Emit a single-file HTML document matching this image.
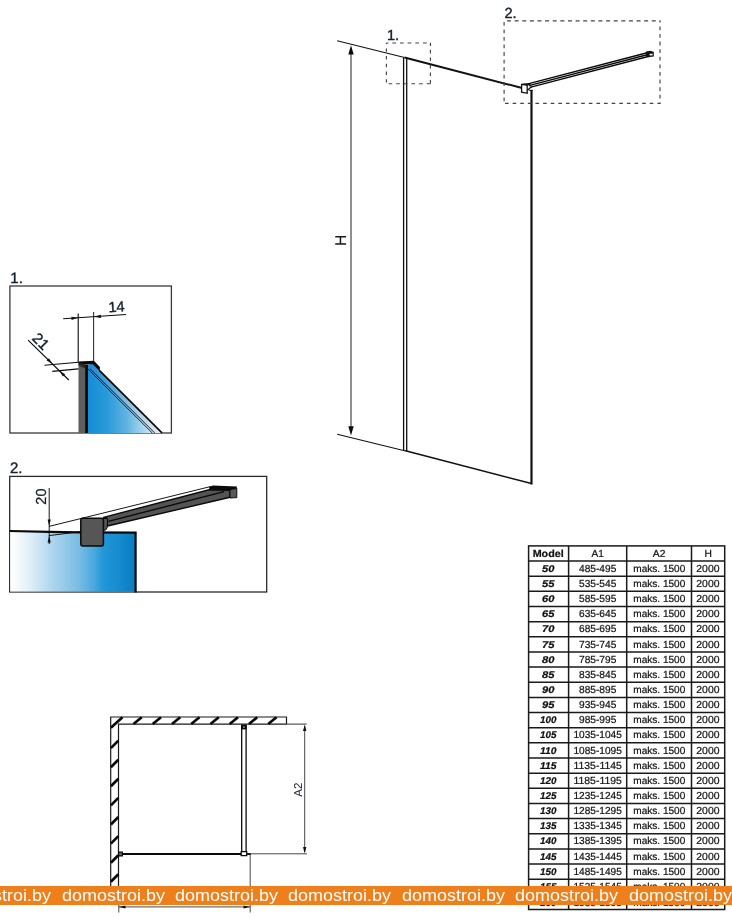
<!DOCTYPE html>
<html><head><meta charset="utf-8">
<style>
html,body{margin:0;padding:0;background:#fff;}
body{width:732px;height:918px;position:relative;overflow:hidden;font-family:"Liberation Sans",sans-serif;}
svg{position:absolute;left:0;top:0;will-change:transform;}
text{font-family:"Liberation Sans",sans-serif;text-rendering:geometricPrecision;}
#banner{will-change:transform;position:absolute;left:0;top:886px;width:732px;height:18.6px;background:#ef7f1a;overflow:hidden;}
#banner span{position:absolute;top:0.7px;color:#fff;font-size:16.6px;line-height:18px;white-space:nowrap;transform:scaleX(1.083);transform-origin:0 0;}
</style></head><body>
<svg id="main" width="732" height="918" viewBox="0 0 732 918">
<defs>
<linearGradient id="g1" gradientUnits="userSpaceOnUse" x1="88" y1="0" x2="153" y2="0"><stop offset="0" stop-color="#148dd6"/><stop offset="0.3" stop-color="#2a9ad9"/><stop offset="0.6" stop-color="#62b4e1"/><stop offset="1" stop-color="#d4eaf6"/></linearGradient>
<linearGradient id="g1s" gradientUnits="userSpaceOnUse" x1="92" y1="364" x2="158" y2="433"><stop offset="0" stop-color="#2489d2"/><stop offset="0.35" stop-color="#5aa9dc"/><stop offset="0.7" stop-color="#a6cfe8"/><stop offset="1" stop-color="#dbeaf3"/></linearGradient>
<linearGradient id="g2" x1="0" y1="0" x2="1" y2="0"><stop offset="0" stop-color="#ffffff"/><stop offset="0.15" stop-color="#e2f0f9"/><stop offset="0.35" stop-color="#a9d4ed"/><stop offset="0.55" stop-color="#78bce4"/><stop offset="0.67" stop-color="#48a9de"/><stop offset="0.74" stop-color="#2198da"/><stop offset="1" stop-color="#0a7dc2"/></linearGradient>
</defs>

<!-- MAIN ISO VIEW -->
<g stroke="#111" fill="none">
<line x1="337.1" y1="40.7" x2="404.5" y2="57.6" stroke-width="1.05"/>
<line x1="404.5" y1="57.5" x2="522" y2="88" stroke-width="1.95"/>
<line x1="337.2" y1="434.3" x2="404.5" y2="450.8" stroke-width="1.05"/>
<line x1="404.5" y1="450.6" x2="531.5" y2="483.6" stroke-width="1.6"/>
<line x1="403.6" y1="57.5" x2="403.6" y2="450.4" stroke-width="1.3"/>
<line x1="406.7" y1="57.8" x2="406.7" y2="451.2" stroke-width="1.3"/>
<line x1="531.5" y1="90" x2="531.5" y2="484.4" stroke-width="2.2"/>
</g>
<!-- H dim -->
<line x1="351" y1="50" x2="351" y2="430" stroke="#6a6a6a" stroke-width="1.5"/>
<polygon points="351,45.2 348.3,54.6 353.7,54.6" fill="#0a0a0a"/>
<polygon points="351,435.6 348.3,426.3 353.7,426.3" fill="#0a0a0a"/>
<text transform="translate(345.8,240.4) rotate(-90)" font-size="15.5" fill="#1a1a1a" stroke="#1a1a1a" stroke-width="0.2" text-anchor="middle">H</text>
<!-- dashed boxes -->
<g stroke="#444" stroke-width="1.15" fill="none">
<line x1="386.4" y1="43" x2="430.9" y2="43" stroke-dasharray="3.8 3.85" stroke-dashoffset="1.75"/>
<line x1="386.4" y1="43" x2="386.4" y2="83.7" stroke-dasharray="3.4 4.3" stroke-dashoffset="2.3"/>
<line x1="430.4" y1="43" x2="430.4" y2="84" stroke-dasharray="3.6 3.95" stroke-dashoffset="0.7"/>
<line x1="386.4" y1="83.7" x2="430.9" y2="83.7" stroke-dasharray="3.6 4.02" stroke-dashoffset="5.42"/>
<line x1="504" y1="20.9" x2="660.5" y2="20.9" stroke-dasharray="4 3.62" stroke-dashoffset="4.62"/>
<line x1="504.1" y1="21" x2="504.1" y2="103.4" stroke-dasharray="3.8 3.75" stroke-dashoffset="6.65"/>
<line x1="660" y1="21" x2="660" y2="103.8" stroke-dasharray="3.8 3.8" stroke-dashoffset="2.2"/>
<line x1="504" y1="103.4" x2="660.5" y2="103.4" stroke-dasharray="3.6 4.02" stroke-dashoffset="6.62"/>
</g>
<text x="387" y="40" font-size="14.6" fill="#14202c" stroke="#14202c" stroke-width="0.4">1.</text>
<text x="504.4" y="17.6" font-size="14.6" fill="#14202c" stroke="#14202c" stroke-width="0.4">2.</text>
<!-- bracket + bar -->
<g stroke="#0a0a0a" stroke-width="1.4" fill="none">
<line x1="528" y1="83.9" x2="650" y2="52"/>
<line x1="529" y1="85.6" x2="650" y2="54"/>
<line x1="530" y1="87.4" x2="650" y2="56"/>
</g>
<polygon points="521.6,84.4 527.2,85.2 527.2,93.3 521.6,92.2" fill="#fff" stroke="#111" stroke-width="1.3"/>
<polygon points="522.5,83.4 530.5,83 530.5,85 527,85.6 522.5,84.8" fill="#111"/>
<line x1="527.6" y1="90.2" x2="531.6" y2="86.6" stroke="#111" stroke-width="1.3"/>
<line x1="529.4" y1="90.4" x2="532.7" y2="90.4" stroke="#111" stroke-width="1.2"/>
<polygon points="646,51.6 650.5,50.8 653.8,52 653.8,56.4 648,57.2 646,56.6" fill="#111"/>
<rect x="649.6" y="53.8" width="3" height="1.6" fill="#fff"/>

<!-- DETAIL 1 -->
<text x="10.3" y="282.8" font-size="15" fill="#14202c" stroke="#14202c" stroke-width="0.4">1.</text>
<rect x="9.9" y="286" width="161.5" height="147" fill="#fff" stroke="#3a3a3a" stroke-width="1.3"/>
<polygon points="88,367 88,433 153.5,433" fill="url(#g1)"/>
<polygon points="87.5,364.4 93,363.8 100,371 162,433 153.5,433 88,368" fill="url(#g1s)"/>
<line x1="87.6" y1="368.6" x2="152.3" y2="433" stroke="#0a0a0a" stroke-width="0.9"/>
<line x1="89.9" y1="368.6" x2="154.8" y2="433" stroke="#0a0a0a" stroke-width="0.9"/>
<line x1="99.6" y1="370.6" x2="162" y2="432.8" stroke="#0a0a0a" stroke-width="1.7"/>
<rect x="78.5" y="363" width="6.8" height="70" fill="#5e5e5e"/>
<polygon points="78.5,363 85.3,363 85.3,368.5 78.5,365.5" fill="#2a2a2a"/>
<rect x="85.1" y="364.5" width="2.9" height="68.5" fill="#0a0a0a"/>
<polygon points="78.3,361.6 93.9,360.8 99.9,366.9 99.9,371.6 92.9,364.2 87,364.2 78.3,363.2" fill="#0a0a0a"/>
<g stroke="#0a0a0a" stroke-width="1.1" fill="none">
<line x1="78.2" y1="313.6" x2="78.2" y2="362"/>
<line x1="93.6" y1="312" x2="93.6" y2="361" stroke="#333"/>
<line x1="63.2" y1="318.8" x2="126" y2="314.5"/>
<line x1="44.4" y1="365.2" x2="78.5" y2="362.3"/>
<line x1="52.3" y1="371.4" x2="78.5" y2="368.9"/>
<line x1="28.1" y1="340.1" x2="68.8" y2="380"/>
</g>
<polygon points="78.2,317.8 71.4,316.7 71.6,319.9" fill="#111"/>
<polygon points="93.6,316.7 100.8,314.7 101,317.9" fill="#111"/>
<polygon points="52.2,363.8 46.6,360.6 49,358.2" fill="#111"/>
<polygon points="59.6,371 65.2,374.2 62.8,376.6" fill="#111"/>
<text transform="translate(116.8,311.7) rotate(-3.7)" font-size="14.6" fill="#14202c" stroke="#14202c" stroke-width="0.4" text-anchor="middle">14</text>
<text transform="translate(31.3,339) rotate(45)" font-size="15" fill="#14202c" stroke="#14202c" stroke-width="0.4">21</text>

<!-- DETAIL 2 -->
<text x="10" y="472.5" font-size="15" fill="#14202c" stroke="#14202c" stroke-width="0.4">2.</text>
<rect x="9.7" y="476.4" width="257" height="115.6" fill="#fff" stroke="#2a2a2a" stroke-width="1.3"/>
<polygon points="10.3,531.2 135.5,533 135.5,591.4 10.3,591.4" fill="url(#g2)"/>
<polyline points="9.7,531 50,531.8 80,532.4 135.6,532.6 135.6,592.4" fill="none" stroke="#0a0a0a" stroke-width="2.2"/>
<!-- bar -->
<polygon points="103.5,517.4 209.2,489.7 230,490.3 230,497.3 107.5,526 107,518.5" fill="#545454" stroke="#0a0a0a" stroke-width="1.4" stroke-linejoin="round"/>
<line x1="108.3" y1="521.4" x2="224" y2="491.6" stroke="#0a0a0a" stroke-width="1.4"/>
<polygon points="209.2,486.8 212.9,485.4 236.8,486.6 236.8,488.6 230,490.4 209.2,489.8" fill="#0a0a0a"/>
<polygon points="230,489.6 236.8,488.4 236.8,497.6 230,498" fill="#585858" stroke="#0a0a0a" stroke-width="1"/>
<path d="M103,518.4 L106,518.4 Q107.6,518.4 107.6,520 L107.2,527.5 Q106.6,530.6 103,530.6 Z" fill="#545454" stroke="#0a0a0a" stroke-width="1"/>
<rect x="80.8" y="518.3" width="22.6" height="27.6" rx="1.8" fill="#565656" stroke="#0a0a0a" stroke-width="1.5"/>
<g stroke="#0a0a0a" stroke-width="0.95" fill="none">
<line x1="49.2" y1="488" x2="49.2" y2="544"/>
<line x1="49" y1="526.4" x2="210.4" y2="486.6"/>
<line x1="49" y1="535.6" x2="80" y2="531.7"/>
</g>
<polygon points="49.2,526 47.6,519.5 50.8,519.5" fill="#111"/>
<polygon points="49.2,536 47.6,542.5 50.8,542.5" fill="#111"/>
<text transform="translate(46,496.6) rotate(-90)" font-size="14.5" fill="#14202c" stroke="#14202c" stroke-width="0.25" text-anchor="middle">20</text>

<!-- PLAN VIEW -->
<g id="plan">
<line x1="110.2" y1="717" x2="287" y2="717" stroke="#1a1a1a" stroke-width="1.2"/>
<line x1="286.5" y1="717" x2="286.5" y2="724.3" stroke="#1a1a1a" stroke-width="1.2"/>
<line x1="110.7" y1="717" x2="110.7" y2="892" stroke="#1a1a1a" stroke-width="1.2"/>
<line x1="118" y1="724.1" x2="286.5" y2="724.1" stroke="#1a1a1a" stroke-width="1.2"/>
<line x1="286.5" y1="724.1" x2="306.7" y2="724.1" stroke="#333" stroke-width="1"/>
<line x1="118.5" y1="724.1" x2="118.5" y2="892" stroke="#1a1a1a" stroke-width="1.2"/>
<line x1="118.8" y1="892" x2="118.8" y2="912.5" stroke="#333" stroke-width="0.9"/>
<g stroke="#0a0a0a" stroke-width="2.7"><line x1="122.5" y1="717.3" x2="110.9" y2="727.8"/><line x1="141.75" y1="717.3" x2="133.45" y2="724"/><line x1="161" y1="717.3" x2="152.7" y2="724"/><line x1="180.25" y1="717.3" x2="171.95" y2="724"/><line x1="199.5" y1="717.3" x2="191.2" y2="724"/><line x1="218.75" y1="717.3" x2="210.45" y2="724"/><line x1="238" y1="717.3" x2="229.7" y2="724"/><line x1="257.25" y1="717.3" x2="248.95" y2="724"/><line x1="276.5" y1="717.3" x2="268.2" y2="724"/><line x1="118.3" y1="740.6" x2="110.9" y2="748.1"/><line x1="118.3" y1="759.7" x2="110.9" y2="767.2"/><line x1="118.3" y1="778.8" x2="110.9" y2="786.3"/><line x1="118.3" y1="797.9" x2="110.9" y2="805.4"/><line x1="118.3" y1="817" x2="110.9" y2="824.5"/><line x1="118.3" y1="836.1" x2="110.9" y2="843.6"/><line x1="118.3" y1="855.2" x2="110.9" y2="862.7"/><line x1="118.3" y1="874.3" x2="110.9" y2="881.8"/></g>
<line x1="120" y1="854" x2="241.5" y2="854" stroke="#0a0a0a" stroke-width="2.2"/>
<line x1="246.5" y1="854" x2="250.8" y2="854" stroke="#0a0a0a" stroke-width="2"/>
<line x1="241.7" y1="725" x2="241.7" y2="852" stroke="#0a0a0a" stroke-width="1.3"/>
<line x1="246.1" y1="725" x2="246.1" y2="852" stroke="#0a0a0a" stroke-width="1.3"/>
<rect x="241.1" y="724.6" width="5.7" height="4.8" fill="#0a0a0a"/>
<rect x="243" y="726.2" width="1.8" height="1.8" fill="#777"/>
<rect x="241.2" y="851.6" width="5.5" height="4" fill="#fff" stroke="#0a0a0a" stroke-width="1.3"/>
<rect x="118.6" y="852.1" width="3.8" height="3.8" fill="#666" stroke="#0a0a0a" stroke-width="1.2"/>
<g stroke="#333" stroke-width="0.9">
<line x1="246.6" y1="853.8" x2="307" y2="853.8"/>
<line x1="304.7" y1="726" x2="304.7" y2="852"/>
<line x1="250.2" y1="854" x2="250.2" y2="912.5"/>
<line x1="118.8" y1="906.9" x2="250.2" y2="906.9"/>
</g>
<polygon points="304.7,724.4 303,731 306.4,731" fill="#111"/>
<polygon points="304.7,853.6 303,847 306.4,847" fill="#111"/>
<polygon points="119,906.9 125.5,905.4 125.5,908.4" fill="#111"/>
<polygon points="250,906.9 243.5,905.4 243.5,908.4" fill="#111"/>
<text transform="translate(302,789.6) rotate(-90)" font-size="11.5" fill="#223" text-anchor="middle">A2</text>
</g>
<g stroke="#1a1a1a" stroke-width="1.5" fill="none"><rect x="528.6" y="545.9" width="196.1" height="363.6"/><line x1="568.6" y1="545.9" x2="568.6" y2="909.5"/><line x1="626.7" y1="545.9" x2="626.7" y2="909.5"/><line x1="691.5" y1="545.9" x2="691.5" y2="909.5"/><line x1="528.6" y1="561.05" x2="724.7" y2="561.05"/><line x1="528.6" y1="576.2" x2="724.7" y2="576.2"/><line x1="528.6" y1="591.35" x2="724.7" y2="591.35"/><line x1="528.6" y1="606.5" x2="724.7" y2="606.5"/><line x1="528.6" y1="621.65" x2="724.7" y2="621.65"/><line x1="528.6" y1="636.8" x2="724.7" y2="636.8"/><line x1="528.6" y1="651.95" x2="724.7" y2="651.95"/><line x1="528.6" y1="667.1" x2="724.7" y2="667.1"/><line x1="528.6" y1="682.25" x2="724.7" y2="682.25"/><line x1="528.6" y1="697.4" x2="724.7" y2="697.4"/><line x1="528.6" y1="712.55" x2="724.7" y2="712.55"/><line x1="528.6" y1="727.7" x2="724.7" y2="727.7"/><line x1="528.6" y1="742.85" x2="724.7" y2="742.85"/><line x1="528.6" y1="758" x2="724.7" y2="758"/><line x1="528.6" y1="773.15" x2="724.7" y2="773.15"/><line x1="528.6" y1="788.3" x2="724.7" y2="788.3"/><line x1="528.6" y1="803.45" x2="724.7" y2="803.45"/><line x1="528.6" y1="818.6" x2="724.7" y2="818.6"/><line x1="528.6" y1="833.75" x2="724.7" y2="833.75"/><line x1="528.6" y1="848.9" x2="724.7" y2="848.9"/><line x1="528.6" y1="864.05" x2="724.7" y2="864.05"/><line x1="528.6" y1="879.2" x2="724.7" y2="879.2"/><line x1="528.6" y1="894.35" x2="724.7" y2="894.35"/></g>
<g font-size="10.2" fill="#111" stroke="#111" stroke-width="0.22" text-anchor="middle"><text x="548.2" y="556.5" textLength="31" lengthAdjust="spacingAndGlyphs" font-weight="bold">Model</text><text x="597.65" y="556.7" textLength="12.3" lengthAdjust="spacingAndGlyphs">A1</text><text x="659.1" y="556.7" textLength="12.6" lengthAdjust="spacingAndGlyphs">A2</text><text x="708.1" y="556.7" textLength="7.4" lengthAdjust="spacingAndGlyphs">H</text><text x="548.3" y="571.75" textLength="12.4" lengthAdjust="spacingAndGlyphs" font-weight="bold" font-style="italic" font-size="9.8">50</text><text x="597.65" y="571.75" textLength="37.3" lengthAdjust="spacingAndGlyphs">485-495</text><text x="659.3" y="571.75" textLength="52" lengthAdjust="spacingAndGlyphs">maks. 1500</text><text x="707.9" y="571.75" textLength="23.2" lengthAdjust="spacingAndGlyphs">2000</text>
<text x="548.3" y="586.9" textLength="12.4" lengthAdjust="spacingAndGlyphs" font-weight="bold" font-style="italic" font-size="9.8">55</text><text x="597.65" y="586.9" textLength="37.3" lengthAdjust="spacingAndGlyphs">535-545</text><text x="659.3" y="586.9" textLength="52" lengthAdjust="spacingAndGlyphs">maks. 1500</text><text x="707.9" y="586.9" textLength="23.2" lengthAdjust="spacingAndGlyphs">2000</text>
<text x="548.3" y="602.05" textLength="12.4" lengthAdjust="spacingAndGlyphs" font-weight="bold" font-style="italic" font-size="9.8">60</text><text x="597.65" y="602.05" textLength="37.3" lengthAdjust="spacingAndGlyphs">585-595</text><text x="659.3" y="602.05" textLength="52" lengthAdjust="spacingAndGlyphs">maks. 1500</text><text x="707.9" y="602.05" textLength="23.2" lengthAdjust="spacingAndGlyphs">2000</text>
<text x="548.3" y="617.2" textLength="12.4" lengthAdjust="spacingAndGlyphs" font-weight="bold" font-style="italic" font-size="9.8">65</text><text x="597.65" y="617.2" textLength="37.3" lengthAdjust="spacingAndGlyphs">635-645</text><text x="659.3" y="617.2" textLength="52" lengthAdjust="spacingAndGlyphs">maks. 1500</text><text x="707.9" y="617.2" textLength="23.2" lengthAdjust="spacingAndGlyphs">2000</text>
<text x="548.3" y="632.35" textLength="12.4" lengthAdjust="spacingAndGlyphs" font-weight="bold" font-style="italic" font-size="9.8">70</text><text x="597.65" y="632.35" textLength="37.3" lengthAdjust="spacingAndGlyphs">685-695</text><text x="659.3" y="632.35" textLength="52" lengthAdjust="spacingAndGlyphs">maks. 1500</text><text x="707.9" y="632.35" textLength="23.2" lengthAdjust="spacingAndGlyphs">2000</text>
<text x="548.3" y="647.5" textLength="12.4" lengthAdjust="spacingAndGlyphs" font-weight="bold" font-style="italic" font-size="9.8">75</text><text x="597.65" y="647.5" textLength="37.3" lengthAdjust="spacingAndGlyphs">735-745</text><text x="659.3" y="647.5" textLength="52" lengthAdjust="spacingAndGlyphs">maks. 1500</text><text x="707.9" y="647.5" textLength="23.2" lengthAdjust="spacingAndGlyphs">2000</text>
<text x="548.3" y="662.65" textLength="12.4" lengthAdjust="spacingAndGlyphs" font-weight="bold" font-style="italic" font-size="9.8">80</text><text x="597.65" y="662.65" textLength="37.3" lengthAdjust="spacingAndGlyphs">785-795</text><text x="659.3" y="662.65" textLength="52" lengthAdjust="spacingAndGlyphs">maks. 1500</text><text x="707.9" y="662.65" textLength="23.2" lengthAdjust="spacingAndGlyphs">2000</text>
<text x="548.3" y="677.8" textLength="12.4" lengthAdjust="spacingAndGlyphs" font-weight="bold" font-style="italic" font-size="9.8">85</text><text x="597.65" y="677.8" textLength="37.3" lengthAdjust="spacingAndGlyphs">835-845</text><text x="659.3" y="677.8" textLength="52" lengthAdjust="spacingAndGlyphs">maks. 1500</text><text x="707.9" y="677.8" textLength="23.2" lengthAdjust="spacingAndGlyphs">2000</text>
<text x="548.3" y="692.95" textLength="12.4" lengthAdjust="spacingAndGlyphs" font-weight="bold" font-style="italic" font-size="9.8">90</text><text x="597.65" y="692.95" textLength="37.3" lengthAdjust="spacingAndGlyphs">885-895</text><text x="659.3" y="692.95" textLength="52" lengthAdjust="spacingAndGlyphs">maks. 1500</text><text x="707.9" y="692.95" textLength="23.2" lengthAdjust="spacingAndGlyphs">2000</text>
<text x="548.3" y="708.1" textLength="12.4" lengthAdjust="spacingAndGlyphs" font-weight="bold" font-style="italic" font-size="9.8">95</text><text x="597.65" y="708.1" textLength="37.3" lengthAdjust="spacingAndGlyphs">935-945</text><text x="659.3" y="708.1" textLength="52" lengthAdjust="spacingAndGlyphs">maks. 1500</text><text x="707.9" y="708.1" textLength="23.2" lengthAdjust="spacingAndGlyphs">2000</text>
<text x="548.3" y="723.25" textLength="16.4" lengthAdjust="spacingAndGlyphs" font-weight="bold" font-style="italic" font-size="9.8">100</text><text x="597.65" y="723.25" textLength="37.3" lengthAdjust="spacingAndGlyphs">985-995</text><text x="659.3" y="723.25" textLength="52" lengthAdjust="spacingAndGlyphs">maks. 1500</text><text x="707.9" y="723.25" textLength="23.2" lengthAdjust="spacingAndGlyphs">2000</text>
<text x="548.3" y="738.4" textLength="16.4" lengthAdjust="spacingAndGlyphs" font-weight="bold" font-style="italic" font-size="9.8">105</text><text x="597.65" y="738.4" textLength="48.3" lengthAdjust="spacingAndGlyphs">1035-1045</text><text x="659.3" y="738.4" textLength="52" lengthAdjust="spacingAndGlyphs">maks. 1500</text><text x="707.9" y="738.4" textLength="23.2" lengthAdjust="spacingAndGlyphs">2000</text>
<text x="548.3" y="753.55" textLength="16.4" lengthAdjust="spacingAndGlyphs" font-weight="bold" font-style="italic" font-size="9.8">110</text><text x="597.65" y="753.55" textLength="48.3" lengthAdjust="spacingAndGlyphs">1085-1095</text><text x="659.3" y="753.55" textLength="52" lengthAdjust="spacingAndGlyphs">maks. 1500</text><text x="707.9" y="753.55" textLength="23.2" lengthAdjust="spacingAndGlyphs">2000</text>
<text x="548.3" y="768.7" textLength="16.4" lengthAdjust="spacingAndGlyphs" font-weight="bold" font-style="italic" font-size="9.8">115</text><text x="597.65" y="768.7" textLength="48.3" lengthAdjust="spacingAndGlyphs">1135-1145</text><text x="659.3" y="768.7" textLength="52" lengthAdjust="spacingAndGlyphs">maks. 1500</text><text x="707.9" y="768.7" textLength="23.2" lengthAdjust="spacingAndGlyphs">2000</text>
<text x="548.3" y="783.85" textLength="16.4" lengthAdjust="spacingAndGlyphs" font-weight="bold" font-style="italic" font-size="9.8">120</text><text x="597.65" y="783.85" textLength="48.3" lengthAdjust="spacingAndGlyphs">1185-1195</text><text x="659.3" y="783.85" textLength="52" lengthAdjust="spacingAndGlyphs">maks. 1500</text><text x="707.9" y="783.85" textLength="23.2" lengthAdjust="spacingAndGlyphs">2000</text>
<text x="548.3" y="799" textLength="16.4" lengthAdjust="spacingAndGlyphs" font-weight="bold" font-style="italic" font-size="9.8">125</text><text x="597.65" y="799" textLength="48.3" lengthAdjust="spacingAndGlyphs">1235-1245</text><text x="659.3" y="799" textLength="52" lengthAdjust="spacingAndGlyphs">maks. 1500</text><text x="707.9" y="799" textLength="23.2" lengthAdjust="spacingAndGlyphs">2000</text>
<text x="548.3" y="814.15" textLength="16.4" lengthAdjust="spacingAndGlyphs" font-weight="bold" font-style="italic" font-size="9.8">130</text><text x="597.65" y="814.15" textLength="48.3" lengthAdjust="spacingAndGlyphs">1285-1295</text><text x="659.3" y="814.15" textLength="52" lengthAdjust="spacingAndGlyphs">maks. 1500</text><text x="707.9" y="814.15" textLength="23.2" lengthAdjust="spacingAndGlyphs">2000</text>
<text x="548.3" y="829.3" textLength="16.4" lengthAdjust="spacingAndGlyphs" font-weight="bold" font-style="italic" font-size="9.8">135</text><text x="597.65" y="829.3" textLength="48.3" lengthAdjust="spacingAndGlyphs">1335-1345</text><text x="659.3" y="829.3" textLength="52" lengthAdjust="spacingAndGlyphs">maks. 1500</text><text x="707.9" y="829.3" textLength="23.2" lengthAdjust="spacingAndGlyphs">2000</text>
<text x="548.3" y="844.45" textLength="16.4" lengthAdjust="spacingAndGlyphs" font-weight="bold" font-style="italic" font-size="9.8">140</text><text x="597.65" y="844.45" textLength="48.3" lengthAdjust="spacingAndGlyphs">1385-1395</text><text x="659.3" y="844.45" textLength="52" lengthAdjust="spacingAndGlyphs">maks. 1500</text><text x="707.9" y="844.45" textLength="23.2" lengthAdjust="spacingAndGlyphs">2000</text>
<text x="548.3" y="859.6" textLength="16.4" lengthAdjust="spacingAndGlyphs" font-weight="bold" font-style="italic" font-size="9.8">145</text><text x="597.65" y="859.6" textLength="48.3" lengthAdjust="spacingAndGlyphs">1435-1445</text><text x="659.3" y="859.6" textLength="52" lengthAdjust="spacingAndGlyphs">maks. 1500</text><text x="707.9" y="859.6" textLength="23.2" lengthAdjust="spacingAndGlyphs">2000</text>
<text x="548.3" y="874.75" textLength="16.4" lengthAdjust="spacingAndGlyphs" font-weight="bold" font-style="italic" font-size="9.8">150</text><text x="597.65" y="874.75" textLength="48.3" lengthAdjust="spacingAndGlyphs">1485-1495</text><text x="659.3" y="874.75" textLength="52" lengthAdjust="spacingAndGlyphs">maks. 1500</text><text x="707.9" y="874.75" textLength="23.2" lengthAdjust="spacingAndGlyphs">2000</text>
<text x="548.3" y="889.9" textLength="16.4" lengthAdjust="spacingAndGlyphs" font-weight="bold" font-style="italic" font-size="9.8">155</text><text x="597.65" y="889.9" textLength="48.3" lengthAdjust="spacingAndGlyphs">1535-1545</text><text x="659.3" y="889.9" textLength="52" lengthAdjust="spacingAndGlyphs">maks. 1500</text><text x="707.9" y="889.9" textLength="23.2" lengthAdjust="spacingAndGlyphs">2000</text>
<text x="548.3" y="905.85" textLength="16.4" lengthAdjust="spacingAndGlyphs" font-weight="bold" font-style="italic" font-size="9.8">160</text><text x="597.65" y="905.85" textLength="48.3" lengthAdjust="spacingAndGlyphs">1585-1595</text><text x="659.3" y="905.85" textLength="52" lengthAdjust="spacingAndGlyphs">maks. 1500</text><text x="707.9" y="905.85" textLength="23.2" lengthAdjust="spacingAndGlyphs">2000</text>
</g>
</svg>


<div id="banner"><span style="left:-51.9px">domostroi.by</span><span style="left:61.5px">domostroi.by</span><span style="left:174.9px">domostroi.by</span><span style="left:288.3px">domostroi.by</span><span style="left:401.7px">domostroi.by</span><span style="left:515.1px">domostroi.by</span><span style="left:628.5px">domostroi.by</span><span style="left:741.9px">domostroi.by</span></div>
</body></html>
